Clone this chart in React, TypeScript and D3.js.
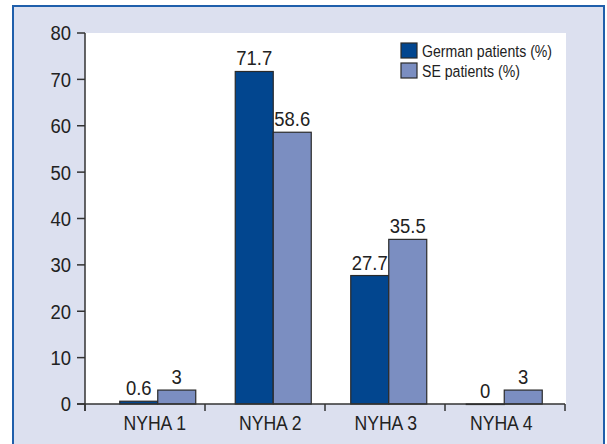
import React, { useRef, useEffect } from 'react';
import * as d3 from 'd3';

const categories = ['NYHA 1', 'NYHA 2', 'NYHA 3', 'NYHA 4'];
const seriesNames = ['German patients (%)', 'SE patients (%)'];
const germanValues = [0.6, 71.7, 27.7, 0];
const seValues = [3, 58.6, 35.5, 3];
const valueLabels = [
  ['0.6', '71.7', '27.7', '0'],
  ['3', '58.6', '35.5', '3']
];
const yTicks = [0, 10, 20, 30, 40, 50, 60, 70, 80];
const colors = ['#02468f', '#7b8ec1'];

const font = '"Liberation Sans", Arial, sans-serif';

// condensed text: horizontal squeeze around the anchor point
const addText = (
  g: d3.Selection<any, any, any, any>,
  x: number, y: number, txt: string,
  size: number, sx: number, anchor = 'start', dy = '0'
) => g.append('text')
  .attr('transform', `translate(${x},${y}) scale(${sx},1)`)
  .attr('dy', dy)
  .attr('text-anchor', anchor)
  .attr('font-family', font)
  .attr('font-size', size)
  .attr('fill', '#222')
  .text(txt);

const App = () => {
  const ref = useRef<SVGSVGElement>(null);

  useEffect(() => {
    const svg = d3.select(ref.current);
    svg.selectAll('*').remove();
    const height = 444;
    const left = 85, right = 565, top = 33, bottom = 404;

    // background panel
    svg.append('rect')
      .attr('x', 13).attr('y', 6)
      .attr('width', 591).attr('height', height + 10)
      .attr('fill', '#dce0ef')
      .attr('stroke', '#1f5fab')
      .attr('stroke-width', 2);

    svg.append('rect')
      .attr('x', left).attr('y', top)
      .attr('width', right - left + 1).attr('height', bottom - top)
      .attr('fill', '#ffffff');

    // axis bands (tick marks) and bar groups are laid out slightly differently in the original
    const x = d3.scaleBand().domain(categories).range([left, right]);
    const xb = d3.scaleBand().domain(categories).range([100, 562]);
    const y = d3.scaleLinear().domain([0, 80]).range([bottom, top]);
    const barW = 38;
    const mid = (c: string) => xb(c)! + xb.bandwidth() / 2;

    const series = [germanValues, seValues];
    series.forEach((vals, si) => {
      const g = svg.append('g');
      g.selectAll('rect')
        .data(vals)
        .enter().append('rect')
        .attr('x', (_, i) => mid(categories[i]) - barW + si * barW)
        .attr('y', d => y(d))
        .attr('width', barW)
        .attr('height', d => Math.max(0.5, bottom - y(d)))
        .attr('fill', colors[si])
        .attr('stroke', '#2a2a2a')
        .attr('stroke-width', 1.2);

      vals.forEach((v, i) => {
        const cx = mid(categories[i]) - barW / 2 + si * barW;
        addText(g, cx, y(v) - 6, valueLabels[si][i], 20.5, 0.9, 'middle');
      });
    });

    // y axis
    const ya = svg.append('g');
    ya.append('line')
      .attr('x1', left).attr('x2', left)
      .attr('y1', top).attr('y2', bottom + 7)
      .attr('stroke', '#333').attr('stroke-width', 1.5);
    ya.selectAll('line.t')
      .data(yTicks)
      .enter().append('line')
      .attr('class', 't')
      .attr('x1', left - 8).attr('x2', left)
      .attr('y1', d => y(d)).attr('y2', d => y(d))
      .attr('stroke', '#333').attr('stroke-width', 1.5);
    yTicks.forEach(t => addText(ya, left - 14, y(t), String(t), 20.5, 0.9, 'end', '0.36em'));

    // x axis
    const xa = svg.append('g');
    xa.append('line')
      .attr('x1', left - 8).attr('x2', right)
      .attr('y1', bottom).attr('y2', bottom)
      .attr('stroke', '#333').attr('stroke-width', 1.5);
    const bounds = categories.map(c => x(c)!).concat([right]);
    xa.selectAll('line.t')
      .data(bounds)
      .enter().append('line')
      .attr('class', 't')
      .attr('x1', d => d).attr('x2', d => d)
      .attr('y1', bottom).attr('y2', bottom + 7)
      .attr('stroke', '#333').attr('stroke-width', 1.5);
    categories.forEach(c => addText(xa, mid(c) - 3, bottom + 26, c, 20.5, 0.86, 'middle'));

    // legend
    const lg = svg.append('g').attr('transform', 'translate(401, 43)');
    seriesNames.forEach((name, i) => {
      lg.append('rect')
        .attr('x', 0).attr('y', i * 20)
        .attr('width', 16).attr('height', 15)
        .attr('fill', colors[i])
        .attr('stroke', '#2a2a2a')
        .attr('stroke-width', 1.2);
      addText(lg, 21, i * 20 + 14, name, 17, 0.83);
    });
  }, []);

  return (
    <svg ref={ref} width={607} height={444} style={{ position: 'absolute', left: 0, top: 0 }}></svg>
  );
};

export default App;
